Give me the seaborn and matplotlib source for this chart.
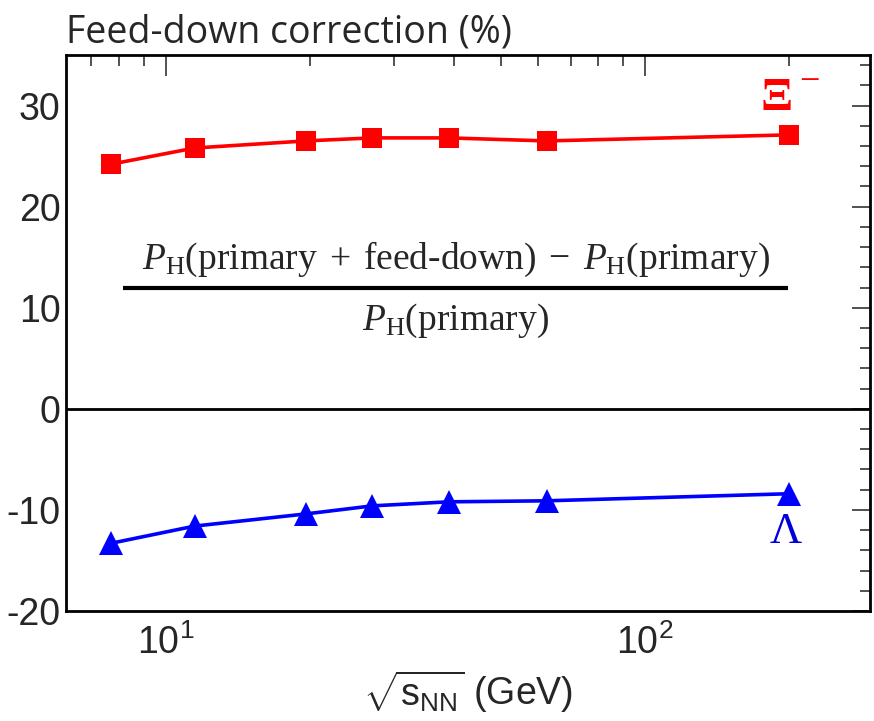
import matplotlib
matplotlib.use("Agg")
import matplotlib.pyplot as plt
from matplotlib import font_manager
from matplotlib.ticker import MultipleLocator, LogLocator, NullFormatter
import seaborn as sns
import pandas as pd

# Collision energies (GeV) and feed-down corrections (%)
energies = [7.7, 11.5, 19.6, 27, 39, 62.4, 200]
xi_corr = [24.2, 25.8, 26.5, 26.8, 26.8, 26.5, 27.1]
lambda_corr = [-13.3, -11.6, -10.4, -9.6, -9.2, -9.1, -8.4]

df = pd.DataFrame({"energy": energies, "xi": xi_corr, "lam": lambda_corr})

names = {f.name for f in font_manager.fontManager.ttflist}
narrow = "Liberation Sans Narrow" if "Liberation Sans Narrow" in names else "Liberation Sans"

sns.set_style("white")
plt.rcParams["font.family"] = [narrow, "DejaVu Sans"]
plt.rcParams["mathtext.fontset"] = "custom"
plt.rcParams["mathtext.rm"] = "Liberation Serif"
plt.rcParams["mathtext.it"] = "Liberation Serif:italic"
plt.rcParams["mathtext.bf"] = "Liberation Serif:bold"
plt.rcParams["mathtext.sf"] = narrow

fig = plt.figure(figsize=(8.74, 7.21), dpi=100)
ax = fig.add_axes([66 / 874, 110 / 721, 804 / 874, 556 / 721])

sns.lineplot(data=df, x="energy", y="xi", ax=ax, color="#ff0000", marker="s",
             markersize=14, markeredgewidth=0, linewidth=2.6)
sns.lineplot(data=df, x="energy", y="lam", ax=ax, color="#0000ff", marker="^",
             markersize=17, markeredgewidth=0, linewidth=2.6)

ax.set_xscale("log")
ax.set_xlim(6.2, 295)
ax.set_ylim(-20, 35)
ax.axhline(0, color="black", linewidth=2, zorder=1)

ax.yaxis.set_minor_locator(MultipleLocator(2))
ax.xaxis.set_minor_locator(LogLocator(base=10, subs=range(2, 10), numticks=20))
ax.xaxis.set_minor_formatter(NullFormatter())
ax.set_yticks([30, 20, 10, 0, -10, -20])
ax.set_yticklabels(["30", "20", "10", "0", "-10", "-20"])
ax.set_xticks([10, 100])
ax.set_xticklabels([r"$\mathsf{10^{1}}$", r"$\mathsf{10^{2}}$"])

ax.tick_params(which="both", direction="in", top=True, right=True,
               labelsize=27, width=1.2, color="#333333")
ax.tick_params(axis="x", which="major", length=15, pad=10)
ax.tick_params(axis="x", which="minor", length=8)
ax.tick_params(axis="y", which="major", length=13, pad=4)
ax.tick_params(axis="y", which="minor", length=7)
for s in ax.spines.values():
    s.set_linewidth(2)
    s.set_color("black")

ax.set_xlabel(r"$\sqrt{\mathsf{s_{NN}}}$ (GeV)", fontsize=27, labelpad=4)
ax.set_ylabel("")

fig.text(66 / 874, 1 - 32 / 721, "Feed-down correction (%)", fontsize=27,
         family=["Open Sans", "DejaVu Sans"], va="center", ha="left")

# Ratio definition drawn as numerator / bar / denominator
frac_x = 0.485
ax.text(frac_x, 0.632,
        r"$P_{\mathrm{H}}(\mathrm{primary}\;+\;\mathrm{feed\text{-}down})\;-\;P_{\mathrm{H}}(\mathrm{primary})$",
        transform=ax.transAxes, ha="center", va="center", fontsize=27)
ax.plot([0.0712, 0.8975], [0.5805, 0.5805], transform=ax.transAxes,
        color="black", linewidth=3, solid_capstyle="butt")
ax.text(frac_x, 0.522, r"$P_{\mathrm{H}}(\mathrm{primary})$",
        transform=ax.transAxes, ha="center", va="center", fontsize=27)

# Particle labels
serif = ["Liberation Serif", "DejaVu Serif"]
ax.text(188, 30.6, "Ξ", color="#ff0000", fontsize=34, family=serif,
        fontweight="bold", ha="center", va="center")
ax.text(220, 32.3, "−", color="#ff0000", fontsize=26, family=serif,
        ha="center", va="center")
ax.text(197, -12.2, "Λ", color="#0000dd", fontsize=32, family=serif,
        ha="center", va="center")

fig.savefig("out.png", dpi=100)
